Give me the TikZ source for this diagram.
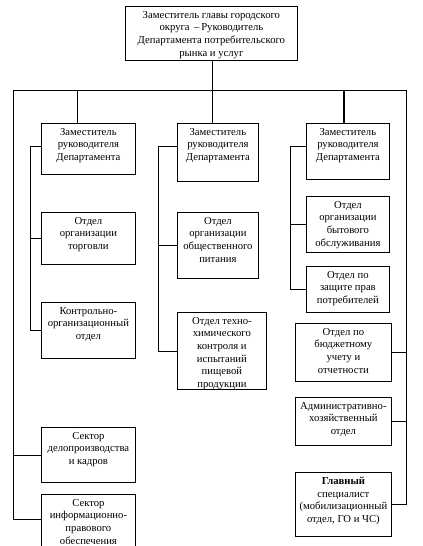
\documentclass[tikz,border=0pt]{standalone}
\usepackage{fontspec}
\setmainfont{Liberation Serif}
\usetikzlibrary{calc}
\tikzset{
  box/.style={draw, line width=0.6pt, inner sep=0pt, anchor=north west},
  wh/.style 2 args={minimum width=#1*0.75pt, minimum height=#2*0.75pt},
  txt/.style={anchor=north, yshift=-3.6pt, inner sep=0pt, align=center,
    font=\fontsize{8}{9.5}\selectfont},
  conn/.style={draw, line width=0.6pt}
}
\begin{document}
\begin{tikzpicture}[x=0.75pt, y=-0.75pt]
\useasboundingbox (0,0) rectangle (423,546);
\clip (0,0) rectangle (423,546);
% boxes
\node[box, wh={172}{54}, label={[txt]north:{Заместитель главы городского\\округа \,–\,Руководитель\\Департамента потребительского\\рынка и услуг}}] (top) at (125,6) {};
\node[box, wh={94}{51}, label={[txt]north:{Заместитель\\руководителя\\Департамента}}] (z1) at (41,123) {};
\node[box, wh={81}{58}, label={[txt]north:{Заместитель\\руководителя\\Департамента}}] (z2) at (177,123) {};
\node[box, wh={83}{56}, label={[txt]north:{Заместитель\\руководителя\\Департамента}}] (z3) at (306,123) {};
\node[box, wh={94}{52}, label={[txt]north:{Отдел\\организации\\торговли}}] (ot) at (41,212) {};
\node[box, wh={94}{56}, label={[txt]north:{Контрольно-\\организационный\\отдел}}] (ko) at (41,302) {};
\node[box, wh={81}{66}, label={[txt]north:{Отдел\\организации\\общественного\\питания}}] (op) at (177,212) {};
\node[box, wh={89}{77}, label={[txt]north:{Отдел техно-\\химического\\контроля и\\испытаний\\пищевой\\продукции}}] (tx) at (177,312) {};
\node[box, wh={83}{56}, label={[txt]north:{Отдел\\организации\\бытового\\обслуживания}}] (bo) at (306,196) {};
\node[box, wh={83}{46}, label={[txt]north:{Отдел по\\защите прав\\потребителей}}] (zp) at (306,266) {};
\node[box, wh={96}{58}, label={[txt]north:{Отдел по\\бюджетному\\учету и\\отчетности}}] (bu) at (295,323) {};
\node[box, wh={96}{48}, label={[txt]north:{Административно-\\хозяйственный\\отдел}}] (ah) at (295,397) {};
\node[box, wh={96}{64}, label={[txt]north:{\textbf{Главный}\\специалист\\(мобилизационный\\отдел, ГО и ЧС)}}] (gs) at (295,472) {};
\node[box, wh={94}{55}, label={[txt]north:{Сектор\\делопроизводства\\и кадров}}] (sd) at (41,427) {};
\node[box, wh={94}{60}, label={[txt]north:{Сектор\\информационно-\\правового\\обеспечения}}] (si) at (41,494) {};
% coordinates
\coordinate (hL) at (13,90);
\coordinate (hR) at (406,90);
\coordinate (b1) at (77,90);
\coordinate (b2) at (212,90);
\coordinate (b3) at (344,90);
\coordinate (v1) at (30,0);
\coordinate (v2) at (158,0);
\coordinate (v3) at (290,0);
% connectors
\draw[conn] (top.south -| b2) -- (b2);
\draw[conn] (hL) -- (hR);
\draw[conn] (b1) -- (b1 |- z1.north);
\draw[conn] (b2) -- (b2 |- z2.north);
\draw[conn, line width=1pt] (b3) -- (b3 |- z3.north);
\draw[conn] (hL) |- ($(si.north west)+(0,25)$);
\draw[conn] (sd.west) -- (sd.west -| hL);
\draw[conn] (hR) |- (gs.east);
\draw[conn] (bu.east) -- (bu.east -| hR);
\draw[conn] (ah.east) -- (ah.east -| hR);
\draw[conn] ($(z1.north west)+(0,23)$) -| (v1 |- ko.west) -- (ko.west);
\draw[conn] (ot.west) -- (ot.west -| v1);
\draw[conn] ($(z2.north west)+(0,23)$) -| (v2 |- tx.west) -- (tx.west);
\draw[conn] (op.west) -- (op.west -| v2);
\draw[conn] ($(z3.north west)+(0,23)$) -| (v3 |- zp.west) -- (zp.west);
\draw[conn] (bo.west) -- (bo.west -| v3);
\end{tikzpicture}
\end{document}
